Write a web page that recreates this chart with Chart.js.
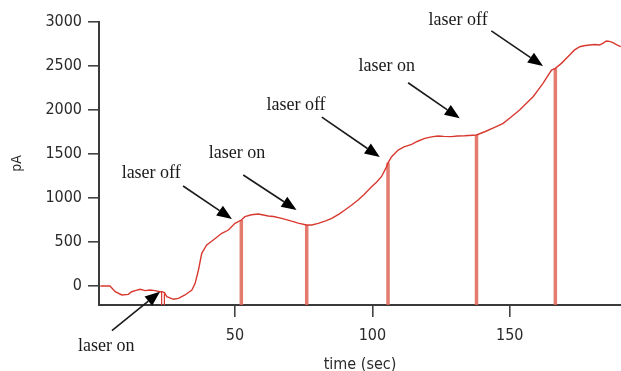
<!DOCTYPE html>
<html><head><meta charset="utf-8">
<script src="https://cdn.jsdelivr.net/npm/chart.js@4/dist/chart.umd.min.js"></script>
<style>html,body{margin:0;padding:0;background:#fff;}canvas{display:block;}</style>
</head><body>
<canvas id="c" width="621" height="371"></canvas>
<script>
// ---- data ----
const timeSec = [1,4.5,6.4,8.8,11.2,12.4,14,15.5,17.3,19.1,20.9,22.7,23.4,24.3,25.2,27.6,29.4,31.8,34.3,35.5,36.7,37.9,39.7,42.1,45.2,47.6,50,52.3,53.6,56,58.5,62.1,64,67,70.6,73,76,78,80.3,83,85.2,88,90,92.5,94.8,97,99.7,101.5,103.3,105.2,105.7,107,109.4,111.5,114.3,116.5,119.1,121.5,123.9,126,128.8,131,133.6,137.9,140.9,144.5,147.6,150.5,153.6,156,158.5,160.3,162.1,165.2,166.6,168.8,171.8,173.5,175.5,177,179.1,181,182.7,184,185.2,186.3,187.6,189,190.4];
const currentPA = [0,0,-65,-102,-95,-65,-50,-38,-53,-45,-53,-65,-65,-75,-121,-151,-140,-102,-45,30,182,371,466,523,599,636,712,750,788,810,818,795,790,769,738,715,693,693,712,740,769,820,864,920,977,1040,1128,1180,1242,1356,1400,1470,1545,1580,1610,1645,1678,1695,1704,1700,1697,1705,1708,1716,1753,1803,1848,1920,2000,2075,2151,2225,2303,2454,2473,2530,2625,2680,2719,2730,2738,2745,2738,2760,2784,2780,2765,2740,2719];
const startMarkTimes = [23.3, 24.3];
const startMarkValues = [-65, -85];
const eventTimes = [52.3, 76.1, 105.7, 137.9, 166.6];
const eventValues = [750, 693, 1400, 1716, 2473];
const yTicks = [0, 500, 1000, 1500, 2000, 2500, 3000];
const xTicks = [50, 100, 150];
const annLabels = ['laser on', 'laser off', 'laser on', 'laser off', 'laser on', 'laser off'];
const annTextX = [3.1, 19.5, 50.7, 72.2, 105.2, 131.2];
const annTextY = [-682, 1284, 1511, 2057, 2492, 3022];
const annTailX = [5.2, 31.1, 53.0, 81.6, 113.0, 143.3];
const annTailY = [-508, 1136, 1261, 1920, 2310, 2900];
const annTipX = [22.7, 48.9, 72.4, 102.7, 131.8, 162.1];
const annTipY = [-65, 761, 864, 1466, 1905, 2499];

const X_MIN = 0.5, X_MAX = 190.5, Y_MIN = -216, Y_MAX = 3000;

function markerSegments(ts, vs) {
  const pts = [];
  ts.forEach((t, i) => {
    pts.push({x: t, y: vs[i]});
    pts.push({x: t, y: Y_MIN});
    pts.push({x: t, y: null});
  });
  return pts;
}

const annotationPlugin = {
  id: 'arrows',
  afterDatasetsDraw(chart) {
    const {ctx, scales: {x, y}} = chart;
    ctx.save();
    annLabels.forEach((lab, i) => {
      const tx = x.getPixelForValue(annTailX[i]), ty = y.getPixelForValue(annTailY[i]);
      const hx = x.getPixelForValue(annTipX[i]), hy = y.getPixelForValue(annTipY[i]);
      const ang = Math.atan2(hy - ty, hx - tx);
      const headLen = 15, headW = 6;
      const bx = hx - headLen * Math.cos(ang), by = hy - headLen * Math.sin(ang);
      ctx.strokeStyle = '#1a1a1a';
      ctx.lineWidth = 1.6;
      ctx.beginPath(); ctx.moveTo(tx, ty); ctx.lineTo(bx, by); ctx.stroke();
      ctx.fillStyle = '#000';
      ctx.beginPath();
      ctx.moveTo(hx, hy);
      ctx.lineTo(bx + headW * Math.sin(ang), by - headW * Math.cos(ang));
      ctx.lineTo(bx - headW * Math.sin(ang), by + headW * Math.cos(ang));
      ctx.closePath(); ctx.fill();
      ctx.font = '18px "Liberation Serif", "Times New Roman", serif';
      ctx.fillStyle = '#1a1a1a';
      ctx.textAlign = 'center';
      ctx.textBaseline = 'middle';
      ctx.fillText(lab, x.getPixelForValue(annTextX[i]), y.getPixelForValue(annTextY[i]));
    });
    ctx.restore();
  }
};

const fam = '"DejaVu Sans Condensed", "Liberation Sans Narrow", "Arial Narrow", sans-serif';
const tickFont = {family: fam, size: 16};

new Chart(document.getElementById('c'), {
  type: 'line',
  data: {
    datasets: [
      {
        data: timeSec.map((t, i) => ({x: t, y: currentPA[i]})),
        borderColor: '#d8392f', borderWidth: 1.4, pointRadius: 0, tension: 0, order: 0
      },
      {
        data: markerSegments(eventTimes, eventValues),
        borderColor: 'rgba(222,100,85,0.85)', borderWidth: 3.5, pointRadius: 0, spanGaps: false, order: 1
      },
      {
        data: markerSegments(startMarkTimes, startMarkValues),
        borderColor: '#d8392f', borderWidth: 1.2, pointRadius: 0, spanGaps: false, order: 1
      }
    ]
  },
  options: {
    responsive: false, animation: false,
    layout: {padding: {top: 22, right: 0, left: 0, bottom: 0}},
    plugins: {legend: {display: false}, tooltip: {enabled: false}},
    scales: {
      x: {
        type: 'linear', min: X_MIN, max: X_MAX,
        afterBuildTicks: s => { s.ticks = xTicks.map(v => ({value: v})); },
        afterFit: s => { s.height = 66; },
        grid: {drawOnChartArea: false, drawTicks: true, tickLength: 12, color: '#444', lineWidth: 1.6},
        border: {display: true, color: '#3a3a3a', width: 2},
        ticks: {font: tickFont, color: '#2a2a2a', padding: 9, maxRotation: 0, callback: v => String(v)},
        title: {display: true, text: 'time (sec)', font: {family: fam, size: 16}, color: '#2a2a2a', padding: {top: 0, bottom: -3}}
      },
      y: {
        type: 'linear', min: Y_MIN, max: Y_MAX,
        afterBuildTicks: s => { s.ticks = yTicks.map(v => ({value: v})); },
        afterFit: s => { s.width = 99; },
        grid: {drawOnChartArea: false, drawTicks: true, tickLength: 11, color: '#444', lineWidth: 1.6},
        border: {display: true, color: '#3a3a3a', width: 2},
        ticks: {font: tickFont, color: '#2a2a2a', padding: 6, callback: v => String(v)},
        title: {display: true, text: 'pA', font: {family: fam, size: 14}, color: '#2a2a2a', padding: {top: 9, bottom: 0}}
      }
    }
  },
  plugins: [annotationPlugin]
});
</script>
</body></html>
